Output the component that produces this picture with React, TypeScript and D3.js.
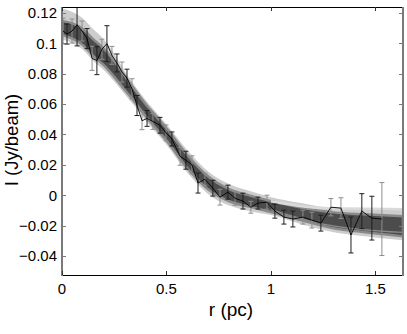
import React, { useEffect, useRef } from 'react';
import * as d3 from 'd3';

const W = 407, H = 334;
const M = { top: 7, right: 4, bottom: 59, left: 62 };

// measured radial profile
const radius = [0.005, 0.024, 0.048, 0.072, 0.096, 0.120, 0.144, 0.167, 0.191, 0.215, 0.239, 0.263, 0.287, 0.311, 0.335, 0.359, 0.383, 0.407, 0.435, 0.469, 0.498, 0.526, 0.565, 0.593, 0.622, 0.651, 0.684, 0.722, 0.756, 0.794, 0.828, 0.866, 0.904, 0.938, 0.981, 1.019, 1.062, 1.105, 1.153, 1.196, 1.239, 1.287, 1.335, 1.383, 1.435, 1.483, 1.531];
const intensity = [0.108, 0.106, 0.108, 0.112, 0.108, 0.103, 0.090, 0.0885, 0.096, 0.0997, 0.092, 0.087, 0.081, 0.077, 0.070, 0.059, 0.049, 0.0505, 0.0485, 0.046, 0.041, 0.037, 0.0256, 0.023, 0.020, 0.008, 0.0105, 0.0046, -0.0013, 0.002, -0.002, -0.0039, -0.0079, -0.0052, -0.0046, -0.0105, -0.0144, -0.0157, -0.0144, -0.0164, -0.0184, -0.0079, -0.0085, -0.0262, -0.0105, -0.0151, -0.0157];
const sigma = [0.0085, 0.0066, 0.0079, 0.0138, 0.0066, 0.0066, 0.0079, 0.0092, 0.0066, 0.0118, 0.0059, 0.0059, 0.0066, 0.0059, 0.0066, 0.0066, 0.0059, 0.0052, 0.0052, 0.0052, 0.0052, 0.0046, 0.0059, 0.0059, 0.0059, 0.0066, 0.0039, 0.0052, 0.0052, 0.0046, 0.0046, 0.0052, 0.0039, 0.0039, 0.0046, 0.0046, 0.0046, 0.0052, 0.0046, 0.0052, 0.0052, 0.0057, 0.0068, 0.0118, 0.0115, 0.0144, 0.0240];
const shade = ['g', 'k', 'g', 'k', 'g', 'k', 'g', 'k', 'g', 'k', 'g', 'k', 'g', 'k', 'g', 'k', 'g', 'k', 'g', 'k', 'g', 'k', 'g', 'k', 'g', 'k', 'g', 'k', 'g', 'k', 'g', 'k', 'g', 'k', 'g', 'k', 'k', 'k', 'g', 'g', 'k', 'g', 'g', 'k', 'k', 'k', 'g'];

// envelope of the fan of model profiles
const bandR = [0, 0.05, 0.1, 0.15, 0.2, 0.25, 0.3, 0.35, 0.4, 0.45, 0.5, 0.6, 0.7, 0.8, 0.9, 1.0, 1.15, 1.3, 1.45, 1.632];
const outerHi = [0.1226, 0.1205, 0.1163, 0.1091, 0.1025, 0.0932, 0.0816, 0.0716, 0.0626, 0.0546, 0.0466, 0.0296, 0.0156, 0.0073, 0.0027, -0.0013, -0.0053, -0.0085, -0.0090, -0.0092];
const coreHi = [0.1146, 0.113, 0.1093, 0.1025, 0.0965, 0.0882, 0.0786, 0.069, 0.060, 0.052, 0.044, 0.0263, 0.0123, 0.004, -0.0003, -0.0039, -0.0083, -0.0113, -0.0126, -0.0139];
const coreLo = [0.1054, 0.103, 0.0987, 0.0915, 0.0855, 0.0778, 0.0694, 0.061, 0.052, 0.044, 0.036, 0.0177, 0.0037, -0.004, -0.0077, -0.0111, -0.0167, -0.0217, -0.0244, -0.0271];
const outerLo = [0.1024, 0.100, 0.0957, 0.0883, 0.0823, 0.0748, 0.0664, 0.0582, 0.0492, 0.0412, 0.0332, 0.0147, 0.0007, -0.0068, -0.0105, -0.0131, -0.0193, -0.0243, -0.0270, -0.0297];
const tailR = [1.0, 1.25, 1.632];
const tailLight = [-0.004, -0.0085, -0.0092];
const tailStripe = [-0.0095, -0.019, -0.0245];

const xTicks = [0, 0.5, 1, 1.5];
const yTicks = [-0.04, -0.02, 0, 0.02, 0.04, 0.06, 0.08, 0.1, 0.12];

const FONT = '"Liberation Sans", Arial, Helvetica, sans-serif';

export default function App() {
  const ref = useRef<SVGSVGElement>(null);
  useEffect(() => {
    const svg = d3.select(ref.current);
    svg.selectAll('*').remove();
    const x = d3.scaleLinear().domain([0, 1.632]).range([M.left, W - M.right]);
    const y = d3.scaleLinear().domain([-0.0525, 0.1238]).range([H - M.bottom, M.top]);
    const [x0, x1] = x.range();
    const [yb, yt] = y.range();

    svg.append('defs').append('clipPath').attr('id', 'plot')
      .append('rect').attr('x', x0).attr('y', yt).attr('width', x1 - x0).attr('height', yb - yt);
    const g = svg.append('g').attr('clip-path', 'url(#plot)');

    const band = (hi: number[], lo: number[]) => d3.area<number>()
      .x((_, i) => x(bandR[i])).y0((_, i) => y(lo[i])).y1((_, i) => y(hi[i]))
      .curve(d3.curveMonotoneX)(bandR);
    g.append('path').attr('d', band(outerHi, outerLo)).attr('fill', '#cdcdcd');
    g.append('path').attr('d', band(coreHi, coreLo)).attr('fill', '#4c4c4c')
      .attr('stroke', '#8a8a8a').attr('stroke-width', 2.5);
    const tail = (vals: number[]) => d3.line<number>().x((_, i) => x(tailR[i])).y((_, i) => y(vals[i])).curve(d3.curveMonotoneX)(tailR);
    g.append('path').attr('d', tail(tailLight)).attr('fill', 'none').attr('stroke', '#dadada').attr('stroke-width', 2.5);
    g.append('path').attr('d', tail(tailStripe)).attr('fill', 'none').attr('stroke', '#8a8a8a').attr('stroke-width', 1.2);

    // error bars
    radius.forEach((r, i) => {
      const col = shade[i] === 'k' ? '#1e1e1e' : '#8e8e8e';
      const cx = x(r), top = y(intensity[i] + sigma[i]), bot = y(intensity[i] - sigma[i]);
      const cap = 2.5;
      const eb = g.append('g').attr('stroke', col).attr('stroke-width', 1).attr('fill', 'none');
      eb.append('line').attr('x1', cx).attr('x2', cx).attr('y1', top).attr('y2', bot);
      eb.append('line').attr('x1', cx - cap).attr('x2', cx + cap).attr('y1', top).attr('y2', top);
      eb.append('line').attr('x1', cx - cap).attr('x2', cx + cap).attr('y1', bot).attr('y2', bot);
    });
    g.append('path').datum(radius)
      .attr('d', d3.line<number>().x(d => x(d)).y((_, i) => y(intensity[i])))
      .attr('fill', 'none').attr('stroke', '#000').attr('stroke-width', 0.9);

    // frame
    svg.append('line').attr('x1', x0).attr('x2', x1).attr('y1', yt + 0.5).attr('y2', yt + 0.5).attr('stroke', '#000');
    svg.append('line').attr('x1', x0).attr('x2', x1).attr('y1', yb + 0.5).attr('y2', yb + 0.5).attr('stroke', '#000');
    svg.append('line').attr('x1', x0).attr('x2', x0).attr('y1', yt).attr('y2', yb + 1).attr('stroke', '#7a7a7a').attr('stroke-width', 2);
    svg.append('line').attr('x1', x1).attr('x2', x1).attr('y1', yt).attr('y2', yb + 1).attr('stroke', '#7a7a7a').attr('stroke-width', 2);

    xTicks.forEach(t => {
      const px = Math.round(x(t)) + 0.5;
      svg.append('line').attr('x1', px).attr('x2', px).attr('y1', yb).attr('y2', yb - 4).attr('stroke', '#333');
      svg.append('line').attr('x1', px).attr('x2', px).attr('y1', yt).attr('y2', yt + 4).attr('stroke', '#333');
      svg.append('text').attr('x', x(t)).attr('y', yb + 19).attr('text-anchor', 'middle')
        .attr('font-family', FONT).attr('font-size', 15).text(String(t));
    });
    yTicks.forEach(t => {
      const py = Math.round(y(t)) + 0.5;
      svg.append('line').attr('x1', x0).attr('x2', x0 + 4).attr('y1', py).attr('y2', py).attr('stroke', '#7a7a7a');
      svg.append('line').attr('x1', x1).attr('x2', x1 - 4).attr('y1', py).attr('y2', py).attr('stroke', '#7a7a7a');
      svg.append('text').attr('x', x0 - 5).attr('y', y(t)).attr('dy', '0.36em').attr('text-anchor', 'end')
        .attr('font-family', FONT).attr('font-size', 15).text(String(t).replace('-', '\u2212'));
    });

    svg.append('text').attr('x', 231).attr('y', 316).attr('text-anchor', 'middle')
      .attr('font-family', FONT).attr('font-size', 19).text('r (pc)');
    svg.append('text').attr('transform', `translate(17.5,${140}) rotate(-90)`).attr('text-anchor', 'middle')
      .attr('font-family', FONT).attr('font-size', 18.5).text('I (Jy/beam)');
  }, []);
  return (
    <svg ref={ref} width={W} height={H} style={{ position: 'absolute', left: 0, top: 0, background: '#fff' }} />
  );
}
